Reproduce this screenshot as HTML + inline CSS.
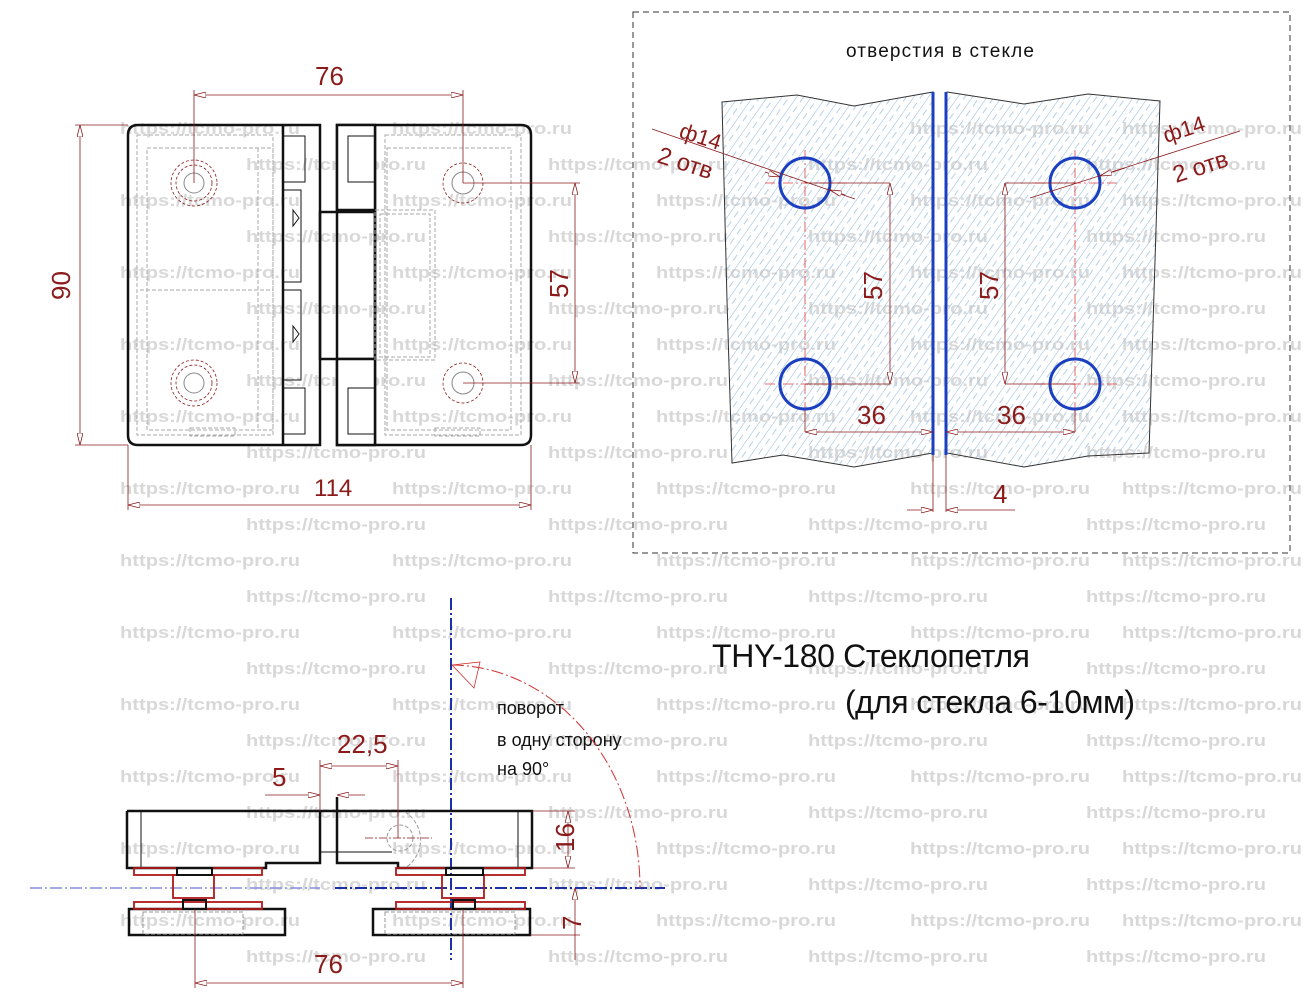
<!DOCTYPE html>
<html><head><meta charset="utf-8"><style>
html,body{margin:0;padding:0;background:#fff;}
svg{display:block;}
.wm{font:bold 17px "Liberation Sans",sans-serif;fill:#d8d8d8;}
.d{font-family:"Liberation Sans","DejaVu Sans",sans-serif;fill:#8b1a1a;}
.k{font-family:"Liberation Sans","DejaVu Sans",sans-serif;fill:#111;}
</style></head><body>
<svg width="1309" height="1000" viewBox="0 0 1309 1000" xmlns="http://www.w3.org/2000/svg">
<defs>
<pattern id="h" width="12" height="12" patternUnits="userSpaceOnUse" patternTransform="rotate(35)">
<line x1="0" y1="0" x2="0" y2="12" stroke="#8fb8dc" stroke-width="1"/>
<line x1="6" y1="2" x2="6" y2="9" stroke="#b4d0e8" stroke-width="1"/>
</pattern>
<marker id="a" markerWidth="12" markerHeight="6" refX="12" refY="3" orient="auto-start-reverse" markerUnits="userSpaceOnUse"><path d="M0,0 L12,3 L0,6 Z" fill="#fff" stroke="#8b1a1a" stroke-width="0.8"/></marker>
</defs>

<g class="wm" id="rows"></g>

<!-- ============ TOP-LEFT VIEW ============ -->
<g fill="none" stroke="#111" stroke-width="2.5">
<path d="M320,125 H138 Q128,125 128,135 V435 Q128,445 138,445 H320 Z"/>
<line x1="283" y1="125" x2="283" y2="445"/>
<path d="M337,125 H521 Q531,125 531,135 V435 Q531,445 521,445 H337 Z"/>
<line x1="375" y1="125" x2="375" y2="445"/>
<rect x="320" y="212" width="55" height="147"/>
<rect x="337" y="125" width="38" height="85" fill="#fff"/>
<rect x="337" y="359" width="38" height="86" fill="#fff"/>
</g>
<g fill="none" stroke="#111" stroke-width="1">
<rect x="283" y="136" width="22" height="46"/><rect x="283" y="388" width="22" height="46"/>
<rect x="348" y="136" width="27" height="46"/><rect x="348" y="388" width="27" height="46"/>
<rect x="283" y="190" width="18" height="92"/><rect x="283" y="290" width="18" height="90"/>
<path d="M293,210 L299,218 L293,226 Z M293,326 L299,334 L293,342 Z"/>
</g>
<g fill="none" stroke="#aaa" stroke-width="1" stroke-dasharray="4,2">
<rect x="137" y="135" width="136" height="300"/><rect x="147" y="148" width="126" height="282"/>
<rect x="385" y="135" width="136" height="300"/><rect x="387" y="148" width="124" height="282"/>
<rect x="375" y="210" width="60" height="150"/><rect x="380" y="214" width="50" height="143"/>
<line x1="140" y1="290" x2="273" y2="290"/><line x1="258" y1="148" x2="258" y2="430"/>
<rect x="190" y="428" width="45" height="8"/><rect x="435" y="428" width="45" height="8"/>
</g>
<g fill="none" stroke="#8b1a1a" stroke-width="0.8" stroke-dasharray="3,2">
<circle cx="194" cy="183" r="23"/><circle cx="194" cy="183" r="18"/>
<circle cx="194" cy="383" r="23"/><circle cx="194" cy="383" r="18"/>
<circle cx="463" cy="183" r="20"/><circle cx="463" cy="383" r="20"/>
</g>
<g fill="none" stroke="#888" stroke-width="1">
<circle cx="194" cy="183" r="10"/><circle cx="194" cy="383" r="10"/>
<circle cx="463" cy="183" r="11"/><circle cx="463" cy="383" r="11"/>
</g>
<g stroke="#8b1a1a" stroke-width="0.8" fill="none">
<line x1="194" y1="90" x2="194" y2="183"/><line x1="463" y1="90" x2="463" y2="183"/>
<line x1="194" y1="95" x2="463" y2="95" marker-start="url(#a)" marker-end="url(#a)"/>
<line x1="75" y1="125" x2="128" y2="125"/><line x1="75" y1="445" x2="128" y2="445"/>
<line x1="80" y1="125" x2="80" y2="445" marker-start="url(#a)" marker-end="url(#a)"/>
<line x1="463" y1="183" x2="580" y2="183"/><line x1="463" y1="383" x2="580" y2="383"/>
<line x1="575" y1="183" x2="575" y2="383" marker-start="url(#a)" marker-end="url(#a)"/>
<line x1="128" y1="445" x2="128" y2="510"/><line x1="531" y1="445" x2="531" y2="510"/>
<line x1="128" y1="505" x2="531" y2="505" marker-start="url(#a)" marker-end="url(#a)"/>
</g>
<text class="d" x="315" y="85" font-size="26">76</text>
<text class="d" x="314" y="496" font-size="24">114</text>
<text class="d" font-size="26" transform="translate(70,300) rotate(-90)">90</text>
<text class="d" font-size="26" transform="translate(568,298) rotate(-90)">57</text>

<!-- ============ RIGHT PANEL ============ -->
<rect x="633" y="12" width="657" height="541" fill="none" stroke="#333" stroke-width="1" stroke-dasharray="6,4"/>
<text class="k" x="846" y="57" font-size="19" textLength="188">отверстия в стекле</text>
<path d="M722,102 L797,95 L854,106 L933,92 L933,453 L854,467 L783,455 L732,463 L727,300 Z" fill="url(#h)" stroke="#333" stroke-width="1"/>
<path d="M947,92 L1024,104 L1088,94 L1160,101 L1149,453 L1088,456 L1024,467 L947,453 Z" fill="url(#h)" stroke="#333" stroke-width="1"/>
<line x1="933" y1="92" x2="933" y2="455" stroke="#1a3fc0" stroke-width="3"/>
<line x1="946" y1="92" x2="946" y2="455" stroke="#1a3fc0" stroke-width="3"/>
<g stroke="#e04040" stroke-width="0.8" stroke-dasharray="10,3,2,3" fill="none">
<line x1="805" y1="150" x2="805" y2="420"/><line x1="1075" y1="150" x2="1075" y2="420"/>
<line x1="765" y1="183" x2="850" y2="183"/><line x1="765" y1="384" x2="850" y2="384"/>
<line x1="1035" y1="183" x2="1118" y2="183"/><line x1="1035" y1="384" x2="1118" y2="384"/>
</g>
<g fill="none" stroke="#1a3fc0" stroke-width="3">
<circle cx="805" cy="183" r="25"/><circle cx="805" cy="384" r="25"/>
<circle cx="1075" cy="183" r="25"/><circle cx="1075" cy="384" r="25"/>
</g>
<g stroke="#8b1a1a" stroke-width="0.8" fill="none">
<line x1="805" y1="183" x2="890" y2="183"/><line x1="805" y1="384" x2="890" y2="384"/>
<line x1="890" y1="183" x2="890" y2="384" marker-start="url(#a)" marker-end="url(#a)"/>
<line x1="1075" y1="183" x2="1005" y2="183"/><line x1="1075" y1="384" x2="1005" y2="384"/>
<line x1="1005" y1="183" x2="1005" y2="384" marker-start="url(#a)" marker-end="url(#a)"/>
<line x1="805" y1="410" x2="805" y2="432"/><line x1="1075" y1="410" x2="1075" y2="432"/>
<line x1="805" y1="432" x2="933" y2="432" marker-start="url(#a)" marker-end="url(#a)"/>
<line x1="946" y1="432" x2="1075" y2="432" marker-start="url(#a)" marker-end="url(#a)"/>
<line x1="933" y1="455" x2="933" y2="512"/><line x1="946" y1="455" x2="946" y2="512"/>
<line x1="907" y1="510" x2="933" y2="510" marker-end="url(#a)"/><line x1="1015" y1="510" x2="946" y2="510" marker-end="url(#a)"/>
<line x1="652" y1="129" x2="855" y2="199"/><line x1="765" y1="172" x2="780" y2="177" marker-end="url(#a)"/><line x1="845" y1="195" x2="830" y2="190" marker-end="url(#a)"/>
<line x1="1240" y1="131" x2="1030" y2="198"/><line x1="1125" y1="168" x2="1100" y2="176" marker-end="url(#a)"/>
</g>
<text class="d" font-size="22" transform="translate(678,137) rotate(18)">ф14</text>
<text class="d" font-size="24" transform="translate(656,162) rotate(18)">2 отв</text>
<text class="d" font-size="22" transform="translate(1166,143) rotate(-18)">ф14</text>
<text class="d" font-size="24" transform="translate(1176,183) rotate(-18)">2 отв</text>
<text class="d" font-size="26" transform="translate(882,300) rotate(-90)">57</text>
<text class="d" font-size="26" transform="translate(998,300) rotate(-90)">57</text>
<text class="d" x="857" y="424" font-size="26">36</text>
<text class="d" x="997" y="424" font-size="26">36</text>
<text class="d" x="993" y="503" font-size="26">4</text>

<!-- ============ BOTTOM ============ -->
<text class="k" x="712" y="667" font-size="32" textLength="318">THY-180 Стеклопетля</text>
<text class="k" x="845" y="713" font-size="32" textLength="290">(для стекла 6-10мм)</text>
<text class="k" x="497" y="714" font-size="18">поворот</text>
<text class="k" x="497" y="746" font-size="18">в одну сторону</text>
<text class="k" x="497" y="775" font-size="18">на 90°</text>

<line x1="451" y1="598" x2="451" y2="960" stroke="#1a2fa8" stroke-width="2" stroke-dasharray="12,3,2,3"/>
<line x1="30" y1="888" x2="320" y2="888" stroke="#8a8ae0" stroke-width="1.5" stroke-dasharray="12,3,2,3"/>
<line x1="335" y1="888" x2="665" y2="888" stroke="#1a2fa8" stroke-width="2" stroke-dasharray="12,3,2,3"/>
<path d="M452,665 A190,223 0 0 1 640,888" fill="none" stroke="#d03030" stroke-width="1" stroke-dasharray="12,3,2,3"/>
<path d="M452,665 L480,662 L474,688 Z" fill="none" stroke="#d03030" stroke-width="0.8"/>

<g fill="none" stroke="#111" stroke-width="2.5">
<path d="M127,811 H532 V868 H398 V863 H337 V797 M127,811 V868 H266 V863 H320 V811"/>
<rect x="129" y="909" width="156" height="26"/>
<rect x="373" y="909" width="157" height="26"/>
</g>
<g fill="none" stroke="#111" stroke-width="1">
<line x1="141" y1="811" x2="141" y2="868"/><line x1="518" y1="811" x2="518" y2="868"/>
<line x1="320" y1="852" x2="392" y2="852"/>
</g>
<g fill="none" stroke="#999" stroke-width="1" stroke-dasharray="4,2">
<circle cx="400" cy="838" r="13"/><path d="M405,812 A33,33 0 0 1 405,868"/>
<rect x="143" y="912" width="100" height="22"/><rect x="385" y="912" width="130" height="22"/>
</g>
<g fill="none" stroke="#b01818" stroke-width="1.8">
<rect x="134" y="868" width="128" height="7"/><rect x="173" y="875" width="41" height="23"/><rect x="134" y="902" width="128" height="7"/>
<rect x="396" y="868" width="129" height="7"/><rect x="442" y="875" width="42" height="23"/><rect x="396" y="902" width="129" height="7"/>
</g>
<g fill="none" stroke="#111" stroke-width="2">
<rect x="177" y="868" width="35" height="7"/><rect x="183" y="900" width="23" height="9"/>
<rect x="446" y="868" width="37" height="7"/><rect x="453" y="900" width="22" height="9"/>
</g>
<g stroke="#8b1a1a" stroke-width="0.8" fill="none">
<line x1="320" y1="760" x2="320" y2="811"/><line x1="398" y1="760" x2="398" y2="838"/>
<line x1="320" y1="766" x2="398" y2="766" marker-start="url(#a)" marker-end="url(#a)"/>
<line x1="265" y1="795" x2="320" y2="795" marker-end="url(#a)"/><line x1="365" y1="795" x2="337" y2="795" marker-end="url(#a)"/>
<line x1="532" y1="811" x2="575" y2="811"/><line x1="532" y1="868" x2="575" y2="868"/>
<line x1="568" y1="811" x2="568" y2="868" marker-start="url(#a)" marker-end="url(#a)"/>
<line x1="530" y1="935" x2="580" y2="935"/>
<line x1="575" y1="888" x2="575" y2="960" marker-start="url(#a)"/>
<line x1="365" y1="838" x2="432" y2="838" stroke-dasharray="8,2,2,2"/>
<line x1="195" y1="909" x2="195" y2="988"/><line x1="463" y1="909" x2="463" y2="988"/>
<line x1="195" y1="983" x2="463" y2="983" marker-start="url(#a)" marker-end="url(#a)"/>
</g>
<text class="d" x="337" y="753" font-size="26">22,5</text>
<text class="d" x="272" y="786" font-size="26">5</text>
<text class="d" font-size="26" transform="translate(574,852) rotate(-90)">16</text>
<text class="d" font-size="26" transform="translate(581,930) rotate(-90)">7</text>
<text class="d" x="314" y="973" font-size="26">76</text>
</svg>
<script>
var g=document.getElementById('rows'),s='';
for(var i=0;i<24;i++){var y=134+i*36;var xs=(i%2)?[246,548,808,1086]:[120,392,656,910,1122];
if(i==0)xs=[120,392,910,1122];
xs.forEach(function(x){s+='<text x="'+x+'" y="'+y+'" textLength="180" lengthAdjust="spacingAndGlyphs">https://tcmo-pro.ru</text>';});}
g.innerHTML=s;
</script>
</body></html>
